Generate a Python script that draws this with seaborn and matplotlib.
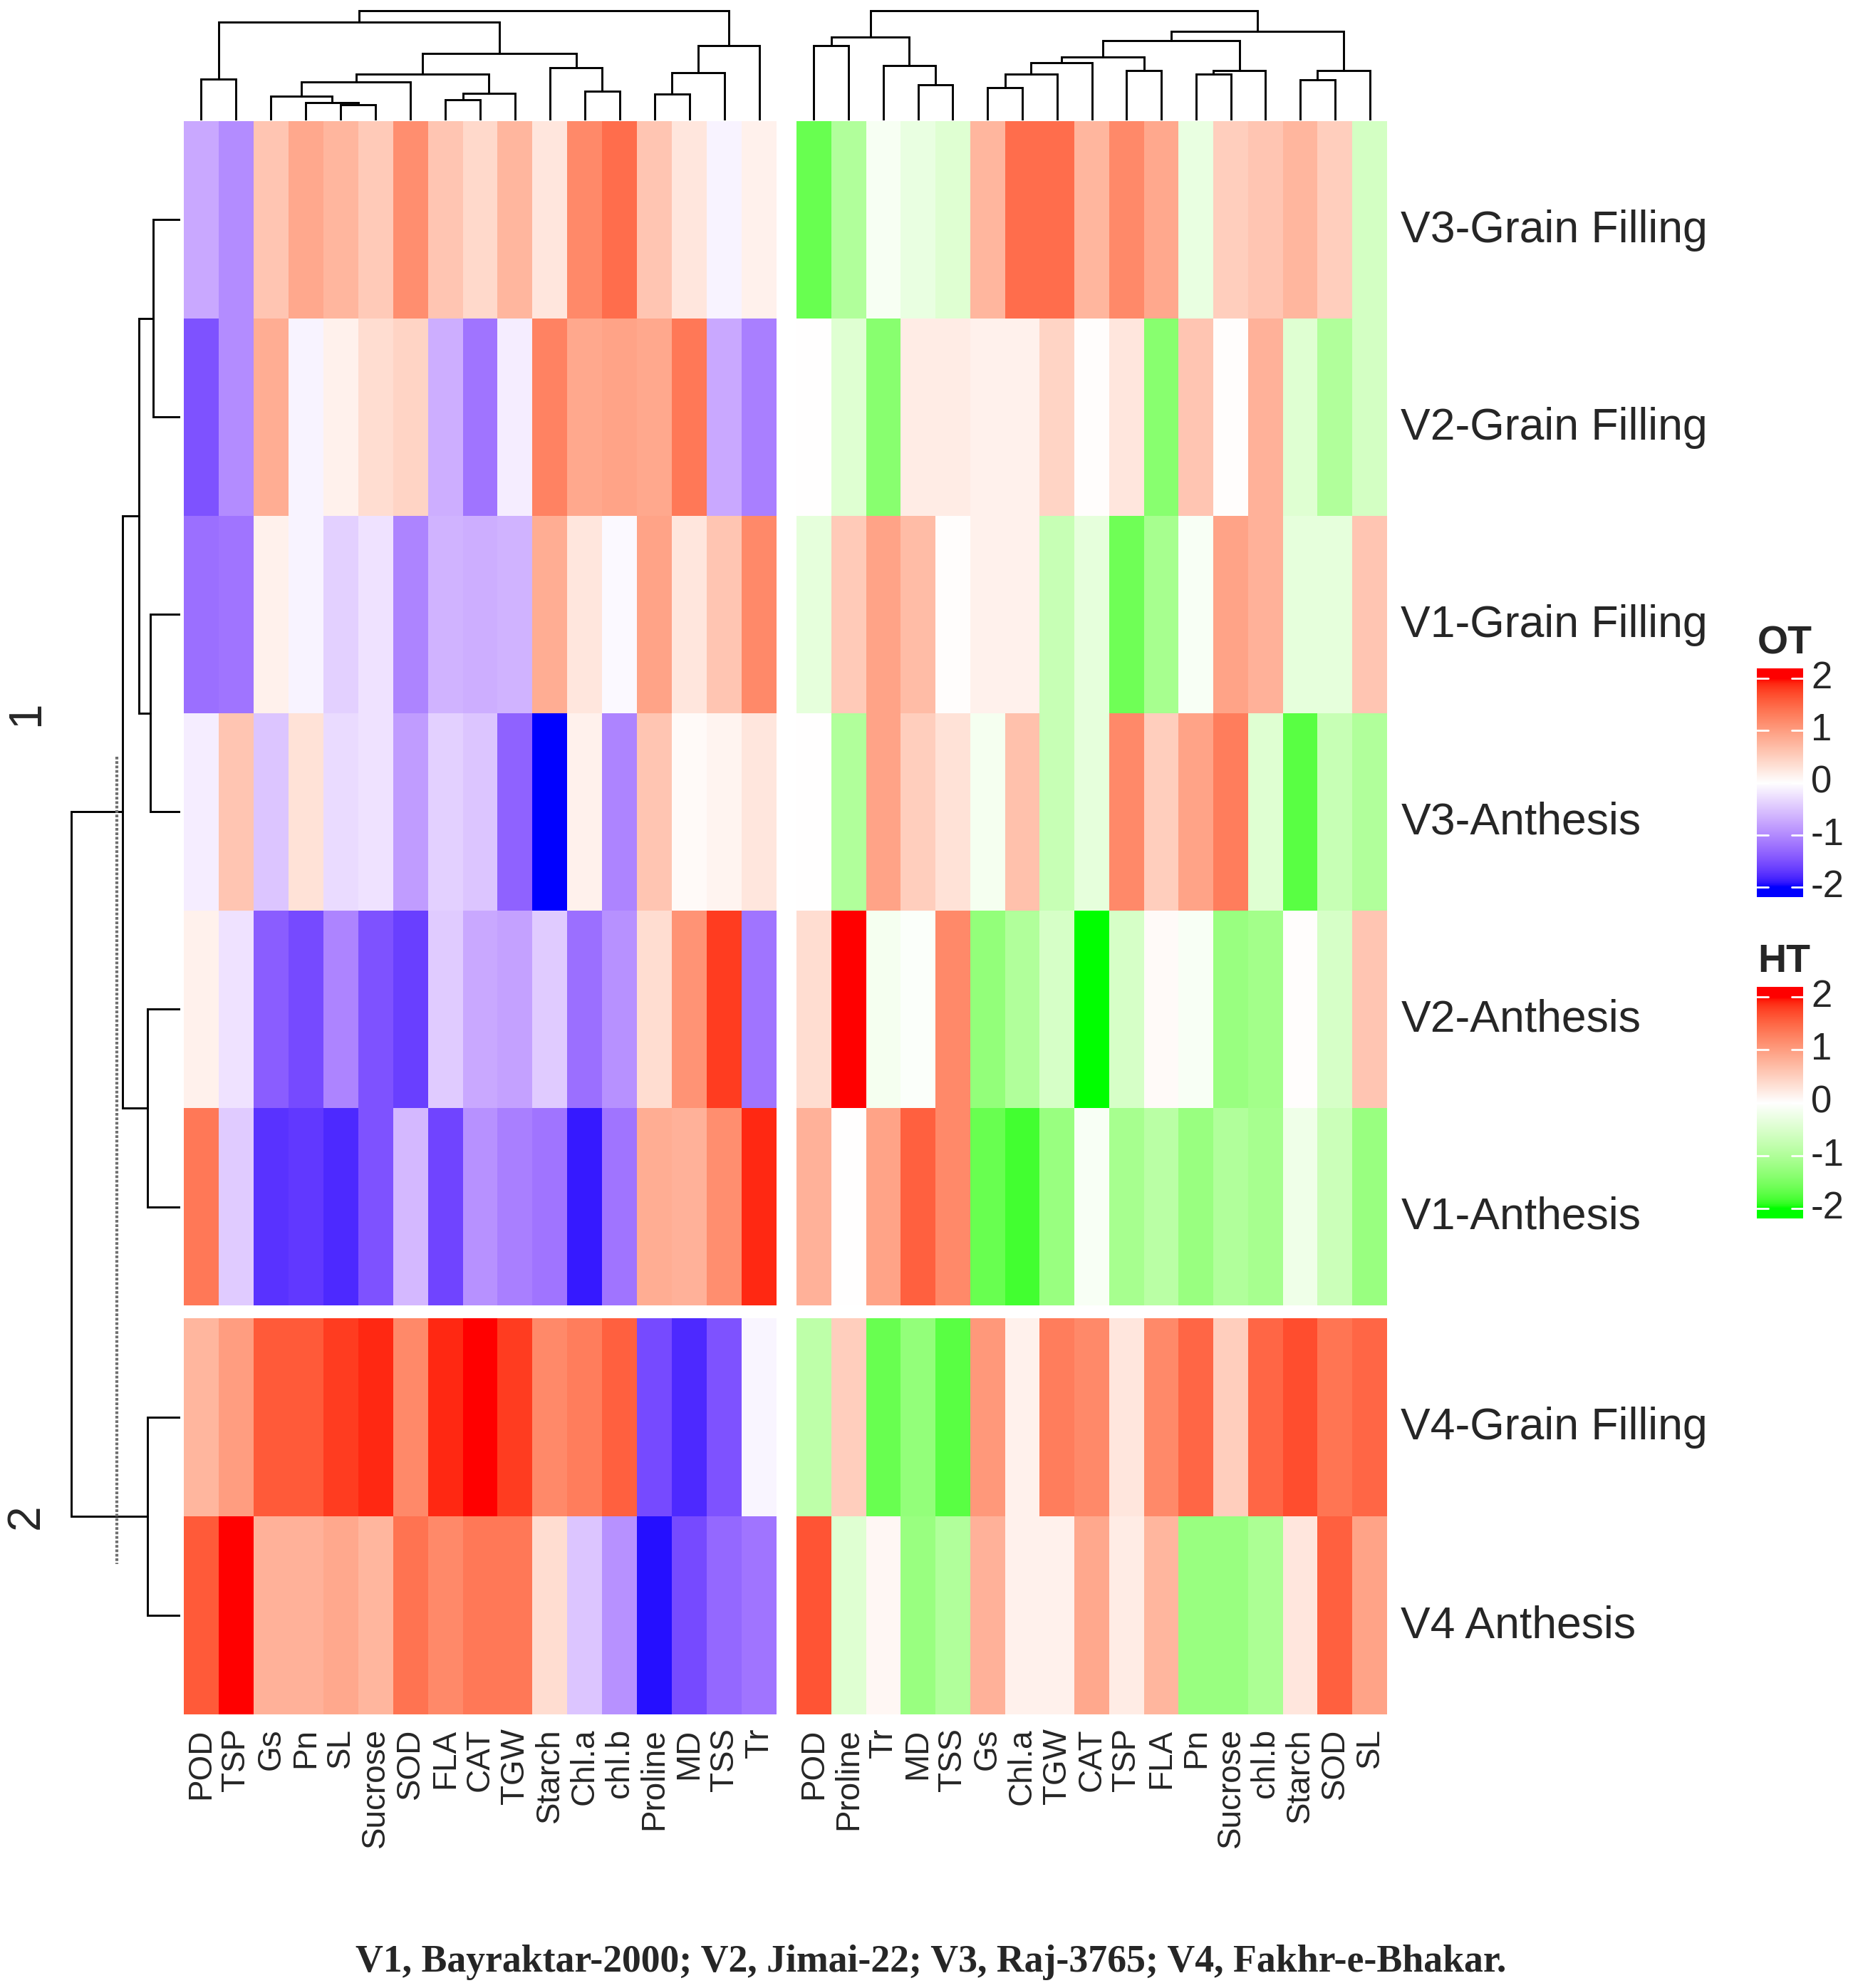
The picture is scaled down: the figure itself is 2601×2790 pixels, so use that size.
import numpy as np
import pandas as pd
import seaborn as sns
import matplotlib.pyplot as plt
from matplotlib.colors import ListedColormap, Normalize

# row / column names
rows = ["V3-Grain Filling", "V2-Grain Filling", "V1-Grain Filling", "V3-Anthesis",
        "V2-Anthesis", "V1-Anthesis", "V4-Grain Filling", "V4 Anthesis"]
ot_cols = ["POD", "TSP", "Gs", "Pn", "SL", "Sucrose", "SOD", "FLA", "CAT", "TGW",
           "Starch", "Chl.a", "chl.b", "Proline", "MD", "TSS", "Tr"]
ht_cols = ["POD", "Proline", "Tr", "MD", "TSS", "Gs", "Chl.a", "TGW", "CAT", "TSP",
           "FLA", "Pn", "Sucrose", "chl.b", "Starch", "SOD", "SL"]

# scaled values, optimal temperature (OT)
ot_vals = [
    [-0.75, -1.0, 0.6, 0.9, 0.75, 0.55, 1.15, 0.6, 0.4, 0.75, 0.25, 1.2, 1.45, 0.6, 0.25, -0.1, 0.15],
    [-1.5, -1.0, 0.85, -0.1, 0.15, 0.35, 0.45, -0.7, -1.2, -0.15, 1.25, 0.9, 0.95, 0.9, 1.35, -0.75, -1.1],
    [-1.25, -1.2, 0.15, -0.1, -0.4, -0.25, -1.05, -0.65, -0.7, -0.65, 0.85, 0.25, -0.05, 0.95, 0.25, 0.6, 1.2],
    [-0.15, 0.6, -0.5, 0.3, -0.3, -0.25, -0.85, -0.4, -0.5, -1.35, -2.0, 0.15, -1.05, 0.6, 0.05, 0.12, 0.25],
    [0.15, -0.25, -1.4, -1.55, -1.05, -1.5, -1.65, -0.45, -0.75, -0.8, -0.45, -1.25, -0.95, 0.35, 1.1, 1.8, -1.2],
    [1.35, -0.45, -1.75, -1.7, -1.8, -1.5, -0.6, -1.6, -0.95, -1.1, -1.2, -1.9, -1.2, 0.85, 0.8, 1.15, 1.9],
    [0.75, 1.0, 1.6, 1.6, 1.8, 1.9, 1.2, 1.9, 2.0, 1.8, 1.2, 1.3, 1.55, -1.55, -1.8, -1.5, -0.08],
    [1.6, 2.0, 0.8, 0.8, 0.9, 0.75, 1.4, 1.2, 1.35, 1.35, 0.35, -0.5, -0.95, -1.95, -1.55, -1.3, -1.2],
]

# scaled values, high temperature (HT)
ht_vals = [
    [-1.65, -1.0, -0.12, -0.3, -0.45, 0.75, 1.45, 1.45, 0.75, 1.2, 0.9, -0.3, 0.5, 0.6, 0.75, 0.5, -0.6],
    [0.0, -0.45, -1.4, 0.2, 0.2, 0.15, 0.15, 0.45, 0.02, 0.25, -1.4, 0.6, 0.02, 0.8, -0.45, -1.0, -0.6],
    [-0.35, 0.55, 0.95, 0.7, 0.02, 0.15, 0.15, -0.75, -0.35, -1.6, -1.1, -0.1, 0.95, 0.8, -0.35, -0.35, 0.6],
    [0.0, -1.0, 0.95, 0.5, 0.3, -0.15, 0.65, -0.75, -0.35, 1.2, 0.5, 0.95, 1.3, -0.45, -1.75, -0.75, -1.0],
    [0.35, 2.0, -0.15, -0.05, 1.2, -1.3, -1.0, -0.55, -2.0, -0.55, 0.05, -0.1, -1.25, -1.15, 0.03, -0.55, 0.6],
    [0.8, 0.0, 0.95, 1.55, 1.2, -1.65, -1.85, -1.25, -0.1, -1.1, -0.9, -1.25, -1.0, -1.1, -0.22, -0.7, -1.25],
    [-0.85, 0.5, -1.65, -1.3, -1.75, 1.05, 0.15, 1.3, 1.2, 0.25, 1.2, 1.5, 0.5, 1.5, 1.7, 1.38, 1.5],
    [1.65, -0.45, 0.08, -1.25, -1.0, 0.8, 0.15, 0.15, 0.9, 0.2, 0.75, -1.25, -1.25, -1.05, 0.25, 1.55, 0.95],
]

n_top = 6  # rows in cluster 1, the rest in cluster 2

# dendrogram merges (left id, right id, height)
ot_tree = [(4, 5, 1.40), (3, 17, 1.60), (7, 8, 1.85), (2, 18, 2.18), (13, 14, 2.43),
           (19, 9, 2.47), (11, 12, 2.67), (20, 6, 3.50), (0, 1, 3.79), (24, 22, 4.24),
           (21, 15, 4.32), (10, 23, 4.81), (26, 28, 6.09), (27, 16, 6.83), (25, 29, 8.97),
           (31, 30, 10.0)]
ht_tree = [(5, 6, 2.96), (3, 4, 3.21), (14, 15, 3.70), (17, 7, 4.24), (11, 12, 4.24),
           (9, 10, 4.53), (21, 13, 4.53), (19, 16, 4.53), (2, 18, 5.02), (20, 8, 5.27),
           (26, 22, 5.80), (0, 1, 6.83), (27, 23, 7.28), (28, 25, 7.61), (29, 24, 8.11),
           (30, 31, 10.0)]
row_tree = [(0, 1, 2.47), (2, 3, 2.73), (4, 5, 3.0), (6, 7, 3.0), (8, 9, 3.77),
            (12, 10, 5.26), (13, 11, 10.0)]
row_cut = 5.84

caption = "V1, Bayraktar-2000; V2, Jimai-22; V3, Raj-3765; V4, Fakhr-e-Bhakar."


# colour ramps interpolated in LAB like colorRamp2
def to_lab(rgb):
    c = np.asarray(rgb, float)
    lin = np.where(c <= 0.04045, c / 12.92, ((c + 0.055) / 1.055) ** 2.4)
    m = np.array([[0.4124, 0.3576, 0.1805], [0.2126, 0.7152, 0.0722], [0.0193, 0.1192, 0.9505]])
    xyz = m @ lin / np.array([0.95047, 1.0, 1.08883])
    f = np.where(xyz > 0.008856, np.cbrt(xyz), 7.787 * xyz + 16 / 116)
    return np.array([116 * f[1] - 16, 500 * (f[0] - f[1]), 200 * (f[1] - f[2])])


def to_rgb(lab):
    fy = (lab[:, 0] + 16) / 116
    fx = fy + lab[:, 1] / 500
    fz = fy - lab[:, 2] / 200
    f = np.stack([fx, fy, fz], axis=1)
    xyz = np.where(f ** 3 > 0.008856, f ** 3, (f - 16 / 116) / 7.787) * np.array([0.95047, 1.0, 1.08883])
    m = np.array([[3.2406, -1.5372, -0.4986], [-0.9689, 1.8758, 0.0415], [0.0557, -0.2040, 1.0570]])
    lin = np.clip(xyz @ m.T, 0, 1)
    return np.where(lin <= 0.0031308, 12.92 * lin, 1.055 * lin ** (1 / 2.4) - 0.055).clip(0, 1)


def lab_ramp(low, high, n=256):
    v = np.linspace(-2, 2, n)[:, None]
    t = np.abs(v) / 2
    w = to_lab([1, 1, 1])
    end = np.where(v < 0, to_lab(low), to_lab(high))
    return ListedColormap(to_rgb(w * (1 - t) + end * t))


cmap_ot = lab_ramp([0, 0, 1], [1, 0, 0])
cmap_ht = lab_ramp([0, 1, 0], [1, 0, 0])

sns.set_style("white")
plt.rcParams["font.family"] = ["Liberation Sans", "DejaVu Sans"]

W, H = 2601, 2790
fig = plt.figure(figsize=(W / 100, H / 100), dpi=100)


def box(x0, y0, x1, y1):
    return [x0 / W, 1 - y1 / H, (x1 - x0) / W, (y1 - y0) / H]


OT_X, HT_X = (258, 1090), (1118, 1947)
TOP_Y, BOT_Y = (170, 1832), (1850, 2406)
DEND_Y = (14, 169)
ROWD_X = (99, 253)

ot_df = pd.DataFrame(ot_vals, index=rows, columns=ot_cols)
ht_df = pd.DataFrame(ht_vals, index=rows, columns=ht_cols)

for df, xr, cmap in [(ot_df, OT_X, cmap_ot), (ht_df, HT_X, cmap_ht)]:
    for part, yr in [(df.iloc[:n_top], TOP_Y), (df.iloc[n_top:], BOT_Y)]:
        ax = fig.add_axes(box(xr[0], yr[0], xr[1], yr[1]))
        bottom = yr is BOT_Y
        sns.heatmap(part, ax=ax, cmap=cmap, vmin=-2, vmax=2, cbar=False,
                    xticklabels=bottom, yticklabels=False, linewidths=0)
        ax.tick_params(axis="x", length=0, pad=14, labelsize=33, rotation=90)
        if df is ht_df:
            # row names on the right, nudged a little below the row centre
            ax.set_yticks(np.arange(len(part)) + 0.53)
            ax.set_yticklabels(part.index, rotation=0)
            ax.yaxis.tick_right()
            ax.tick_params(axis="y", length=0, pad=14, labelsize=45)
        ax.set_xlabel("")
        ax.set_ylabel("")


def draw_tree(ax, merges, leaf_pos, vertical=True, lw=2.1):
    pos = list(leaf_pos)
    hgt = [0.0] * len(leaf_pos)
    for a, b, h in merges:
        xs = [pos[a], pos[a], pos[b], pos[b]]
        ys = [hgt[a], h, h, hgt[b]]
        if vertical:
            ax.plot(xs, ys, color="black", lw=lw, solid_joinstyle="miter")
        else:
            ax.plot(ys, xs, color="black", lw=lw, solid_joinstyle="miter")
        pos.append((pos[a] + pos[b]) / 2)
        hgt.append(h)
    return pos


# column dendrograms
for tree, xr in [(ot_tree, OT_X), (ht_tree, HT_X)]:
    ax = fig.add_axes(box(xr[0], DEND_Y[0], xr[1], DEND_Y[1]))
    n = len(tree) + 1
    draw_tree(ax, tree, np.arange(n) + 0.5)
    ax.set_xlim(0, n)
    ax.set_ylim(0, 10.05)
    ax.axis("off")

# row dendrogram, leaves at the row centres (pixel units)
top_h = (TOP_Y[1] - TOP_Y[0]) / n_top
bot_h = (BOT_Y[1] - BOT_Y[0]) / (len(rows) - n_top)
centres = [TOP_Y[0] + (i + 0.5) * top_h for i in range(n_top)] + \
          [BOT_Y[0] + (j + 0.5) * bot_h for j in range(len(rows) - n_top)]
axr = fig.add_axes(box(ROWD_X[0], TOP_Y[0], ROWD_X[1], BOT_Y[1]))
rpos = draw_tree(axr, row_tree, centres, vertical=False)
axr.set_xlim(10.05, 0)
axr.set_ylim(BOT_Y[1], TOP_Y[0])
axr.axis("off")
c1, c2 = rpos[13], rpos[11]
axr.plot([row_cut, row_cut], [c1 - 0.28 * top_h, c2 + 0.24 * bot_h],
         color="#707070", lw=3.0, linestyle=(0, (0.9, 0.6)))
for lab, yc in [("1", np.mean(centres[:n_top])), ("2", np.mean(centres[n_top:]))]:
    fig.text(37 / W, 1 - yc / H, lab, rotation=90, ha="center", va="center", fontsize=46)


# colour legends
def legend(cmap, title, y0, y1):
    cax = fig.add_axes(box(2466, y0, 2531, y1))
    ext = 2.19
    grad = np.linspace(-ext, ext, 400)[:, None]
    cax.imshow(grad, cmap=cmap, norm=Normalize(-2, 2), aspect="auto",
               origin="lower", extent=[0, 1, -ext, ext])
    cax.set_xlim(0, 1)
    cax.set_ylim(-ext, ext)
    cax.axis("off")
    for t in [-2, -1, 0, 1, 2]:
        cax.plot([0, 0.24], [t, t], color="white", lw=2)
        cax.plot([0.76, 1], [t, t], color="white", lw=2)
        cax.text(1.17, t, str(t), transform=cax.get_yaxis_transform(),
                 ha="left", va="center", fontsize=38)
    fig.text(2467 / W, 1 - (y0 - 21) / H, title, ha="left", va="baseline",
             fontsize=40, fontweight="bold")


legend(cmap_ot, "OT", 938, 1259)
legend(cmap_ht, "HT", 1385, 1710)

fig.text(1307 / W, 1 - 2767 / H, caption, ha="center", va="baseline",
         family=["Liberation Serif", "DejaVu Serif"], fontweight="bold", fontsize=38.7)

fig.savefig("out.png", dpi=100, facecolor="white")
